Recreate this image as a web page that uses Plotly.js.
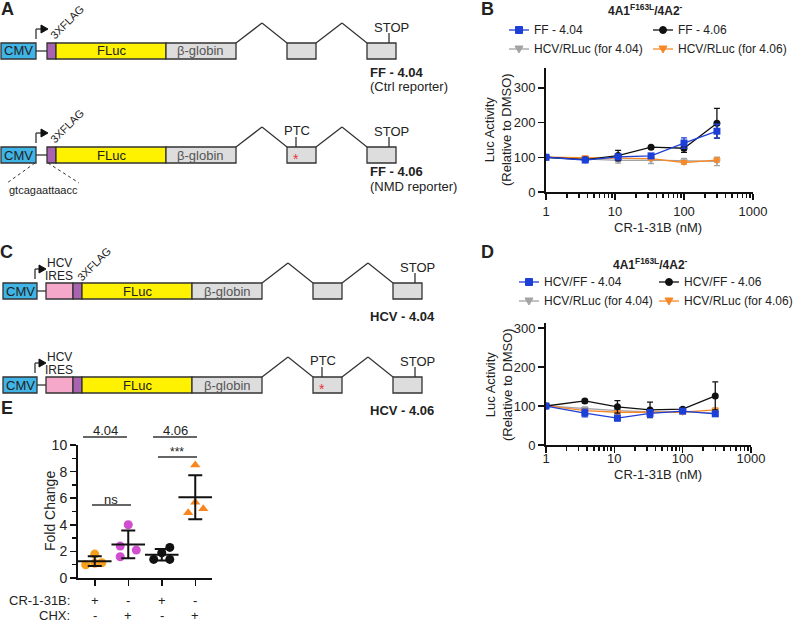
<!DOCTYPE html>
<html>
<head>
<meta charset="utf-8">
<script src="https://cdn.plot.ly/plotly-3.0.1.min.js"></script>
<style>
  body { margin: 0; background: #fff; }
  #chart { width: 797px; height: 623px; }
</style>
</head>
<body>
<div id="chart"></div>
<script>
// CR-1-31B doses (nM)
var conc = [1, 3.7, 11.1, 33.3, 100, 300];

// B: 4A1 F163L / 4A2-, FF reporters
var bFF404 = [100, 92, 101, 104, 141, 175];
var bFF404Sd = [2, 5, 8, 6, 15, 20];
var bFF406 = [100, 93, 105, 129, 126, 198];
var bFF406Sd = [2, 4, 15, 4, 12, 43];
var bRL404 = [100, 95, 91, 92, 89, 88];
var bRL404Sd = [2, 4, 8, 10, 8, 12];
var bRL406 = [100, 99, 97, 96, 85, 92];
var bRL406Sd = [2, 5, 5, 5, 5, 6];

// D: same cells, HCV IRES reporters
var dFF404 = [100, 82, 69, 81, 87, 80];
var dFF404Sd = [2, 10, 7, 10, 5, 6];
var dFF406 = [100, 113, 98, 90, 92, 126];
var dFF406Sd = [2, 4, 16, 20, 4, 36];
var dRL404 = [100, 93, 88, 85, 85, 82];
var dRL404Sd = [2, 5, 5, 5, 5, 5];
var dRL406 = [101, 88, 84, 84, 84, 90];
var dRL406Sd = [2, 4, 4, 4, 4, 5];

// E: fold change, 4 replicates per condition
var e404CR = [1.0, 1.8, 1.1, 1.15];
var e404CHX = [4.0, 2.4, 2.1, 1.6];
var e406CR = [1.9, 2.3, 1.4, 1.4];
var e406CHX = [8.5, 5.7, 4.9, 5.2];
var crSigns = ['+', '-', '+', '-'];
var chxSigns = ['-', '+', '-', '+'];

var W = 797, H = 623;
var FONT = 'Liberation Sans, Arial, Helvetica, sans-serif';
function px(x) { return x / W; }
function py(y) { return 1 - y / H; }

var shapes = [];
var notes = [];

function line(x0, y0, x1, y1, color, width, dash) {
  shapes.push({type: 'line', xref: 'paper', yref: 'paper',
    x0: px(x0), y0: py(y0), x1: px(x1), y1: py(y1),
    line: {color: color || '#333', width: width || 1.3, dash: dash || 'solid'}});
}
function rect(x0, x1, top, fill) {
  shapes.push({type: 'rect', xref: 'paper', yref: 'paper',
    x0: px(x0), x1: px(x1), y0: py(top + 16), y1: py(top),
    line: {color: '#333', width: 1.3}, fillcolor: fill});
}
function poly(pts, color) {
  var d = pts.map(function (p, i) { return (i ? 'L' : 'M') + px(p[0]) + ',' + py(p[1]); }).join(' ') + ' Z';
  shapes.push({type: 'path', xref: 'paper', yref: 'paper', path: d,
    fillcolor: color, line: {color: color, width: 1}});
}
function tri(tip, y) {
  poly([[tip, y], [tip - 7, y - 4], [tip - 7, y + 4]], '#111');
}
function text(x, y, t, size, opts) {
  opts = opts || {};
  notes.push({xref: 'paper', yref: 'paper', x: px(x), y: py(y), text: t, showarrow: false,
    xanchor: opts.xanchor || 'center', yanchor: 'middle', textangle: opts.angle || 0,
    font: {family: FONT, size: size || 13, color: opts.color || '#222'}});
}

// one reporter construct; hcv rows have the IRES and sit 26px further right
function construct(top, hcv, ptc, flag) {
  var s = hcv ? 26 : 0;
  var c0 = hcv ? 3 : 1, c1 = hcv ? 37 : 36;
  var mid = top + 8;
  line(c1, mid, hcv ? 46 : 47, mid);
  rect(c0, c1, top, '#3fb4e5');
  text((c0 + c1) / 2, mid, 'CMV', 13);
  if (hcv) rect(46, 73, top, '#f5a8c9');
  rect(47 + s, 56 + s, top, '#a864b0');
  rect(56 + s, 166 + s, top, '#fff200');
  text(111 + s, mid, 'FLuc', 13);
  rect(166 + s, 236 + s, top, '#dddddd');
  text(201 + s, mid, 'β-globin', 13, {color: '#555'});
  line(236 + s, top, 262 + s, top - 20);
  line(262 + s, top - 20, 287 + s, top);
  rect(287 + s, 316 + s, top, '#dddddd');
  line(316 + s, top, 342 + s, top - 20);
  line(342 + s, top - 20, 367 + s, top);
  rect(367 + s, 396 + s, top, '#dddddd');
  line(389 + s, top - 10, 389 + s, top);
  text(391 + s, top - 16, 'STOP', 13);
  if (ptc) {
    line(296 + s, top - 10, 296 + s, top);
    text(297 + s, top - 17, 'PTC', 13);
    text(296 + s, mid + 4, '*', 14, {color: '#e8333a'});
  }
  var ax = hcv ? 35 : 36, tip = hcv ? 46 : 48;
  line(ax, top - 4, ax, top - 14);
  line(ax, top - 14, tip - 6, top - 14);
  tri(tip, top - 14);
  if (flag) text(hcv ? 94 : 67, top - (hcv ? 19 : 21), '3XFLAG', 11, {angle: -45});
  if (hcv) {
    text(59, top - 20, 'HCV', 12);
    text(59, top - 7, 'IRES', 12);
  }
}

construct(43, false, false, true);
construct(147, false, true, true);
construct(283, true, false, true);
construct(377, true, true, false);

text(368, 72, '<b>FF - 4.04</b>', 13, {xanchor: 'left'});
text(368, 87, '(Ctrl reporter)', 13, {xanchor: 'left'});
text(368, 172, '<b>FF - 4.06</b>', 13, {xanchor: 'left'});
text(368, 186, '(NMD reporter)', 13, {xanchor: 'left'});
text(368, 316, '<b>HCV - 4.04</b>', 13, {xanchor: 'left'});
text(368, 410, '<b>HCV - 4.06</b>', 13, {xanchor: 'left'});
line(35, 163, 7, 183, '#333', 1, 'dot');
line(48, 163, 79, 183, '#333', 1, 'dot');
text(43, 190, 'gtcagaattaacc', 11);

// panel letters and titles
text(7, 9, '<b>A</b>', 18);
text(487, 9, '<b>B</b>', 18);
text(6, 252, '<b>C</b>', 18);
text(487, 252, '<b>D</b>', 18);
text(7, 408, '<b>E</b>', 18);
text(645, 10, '<b>4A1<sup>F163L</sup>/4A2<sup>-</sup></b>', 12);
text(650, 264, '<b>4A1<sup>F163L</sup>/4A2<sup>-</sup></b>', 12);
text(498, 130, 'Luc Activity<br>(Relative to DMSO)', 13, {angle: -90});
text(499, 385, 'Luc Activity<br>(Relative to DMSO)', 13, {angle: -90});
text(658, 227, 'CR-1-31B (nM)', 13);
text(658, 474, 'CR-1-31B (nM)', 13);

// E brackets
text(105, 430, '4.04', 13);
line(83, 437, 127, 437);
text(175, 430, '4.06', 13);
line(153, 437, 197, 437);
text(177, 452, '***', 12);
line(158, 457, 197, 457);
text(111, 499, 'ns', 13);
line(92, 505, 131, 505);
text(50, 511, 'Fold Change', 14, {angle: -90});
text(72, 600, 'CR-1-31B:', 13, {xanchor: 'right'});
text(72, 615, 'CHX:', 13, {xanchor: 'right'});
crSigns.forEach(function (s, i) {
  notes.push({xref: 'x3', yref: 'paper', x: i, y: py(600), yanchor: 'middle', text: s, showarrow: false,
    font: {family: FONT, size: 13, color: '#222'}});
  notes.push({xref: 'x3', yref: 'paper', x: i, y: py(615), yanchor: 'middle', text: chxSigns[i], showarrow: false,
    font: {family: FONT, size: 13, color: '#222'}});
});

var BLUE = '#1c3fd8', GREY = '#a3a3a3', ORANGE = '#f7882a';

function series(name, y, sd, color, symbol, xa, ya) {
  return {type: 'scatter', mode: 'lines+markers', name: name, x: conc, y: y,
    xaxis: xa, yaxis: ya, showlegend: false,
    line: {color: color, width: 1.3},
    marker: {color: color, symbol: symbol, size: 7},
    error_y: {type: 'data', array: sd, color: color, thickness: 1.3, width: 3}};
}

var bTraces = [
  series('HCV/RLuc (for 4.04)', bRL404, bRL404Sd, GREY, 'triangle-down', 'x', 'y'),
  series('HCV/RLuc (for 4.06)', bRL406, bRL406Sd, ORANGE, 'triangle-down', 'x', 'y'),
  series('FF - 4.06', bFF406, bFF406Sd, '#111', 'circle', 'x', 'y'),
  series('FF - 4.04', bFF404, bFF404Sd, BLUE, 'square', 'x', 'y')
];
var dTraces = [
  series('HCV/RLuc (for 4.04)', dRL404, dRL404Sd, GREY, 'triangle-down', 'x2', 'y2'),
  series('HCV/RLuc (for 4.06)', dRL406, dRL406Sd, ORANGE, 'triangle-down', 'x2', 'y2'),
  series('HCV/FF - 4.06', dFF406, dFF406Sd, '#111', 'circle', 'x2', 'y2'),
  series('HCV/FF - 4.04', dFF404, dFF404Sd, BLUE, 'square', 'x2', 'y2')
];

// two-column key drawn from the traces themselves
function keyMark(x, y, t) {
  var c = t.marker.color, sym = t.marker.symbol;
  line(x - 10, y, x + 10, y, c, 1.3);
  if (sym === 'square') {
    shapes.push({type: 'rect', xref: 'paper', yref: 'paper', x0: px(x - 3.5), x1: px(x + 3.5),
      y0: py(y + 3.5), y1: py(y - 3.5), fillcolor: c, line: {color: c, width: 1}});
  } else if (sym === 'circle') {
    shapes.push({type: 'circle', xref: 'paper', yref: 'paper', x0: px(x - 3.5), x1: px(x + 3.5),
      y0: py(y + 3.5), y1: py(y - 3.5), fillcolor: c, line: {color: c, width: 1}});
  } else {
    poly([[x - 4, y - 3], [x + 4, y - 3], [x, y + 4]], c);
  }
}
function key(tr, cols, rows) {
  // order: [col1 row1, col2 row1, col1 row2, col2 row2] = FF 4.04, FF 4.06, RLuc 4.04, RLuc 4.06
  [tr[3], tr[2], tr[0], tr[1]].forEach(function (t, i) {
    var x = cols[i % 2], y = rows[Math.floor(i / 2)];
    keyMark(x + 10, y, t);
    text(x + 23, y, t.name, 12, {xanchor: 'left'});
  });
}
key(bTraces, [509, 653], [30, 49]);
key(dTraces, [519, 659], [282, 301]);

var traces = bTraces.concat(dTraces);

// E: replicate dots, then mean +/- SD
var groups = [e404CR, e404CHX, e406CR, e406CHX];
var groupColors = ['#f8a01c', '#d04fd0', '#111111', '#f7861e'];
var groupSymbols = ['circle', 'circle', 'circle', 'triangle-up'];
var jitter = [[-0.27, 0, 0, 0.21], [0, -0.24, 0.24, -0.24], [0, 0.24, -0.24, 0.24], [0, 0, -0.21, 0.24]];
var means = [], sds = [];
groups.forEach(function (g, i) {
  var m = g.reduce(function (a, b) { return a + b; }, 0) / g.length;
  var v = g.reduce(function (a, b) { return a + (b - m) * (b - m); }, 0) / (g.length - 1);
  means.push(m);
  sds.push(Math.sqrt(v));
  traces.push({type: 'scatter', mode: 'markers', x: g.map(function (d, j) { return i + jitter[i][j]; }),
    y: g, xaxis: 'x3', yaxis: 'y3', showlegend: false,
    marker: {color: groupColors[i], symbol: groupSymbols[i], size: 9}});
});
traces.push({type: 'scatter', mode: 'markers', x: [0, 1, 2, 3], y: means, xaxis: 'x3', yaxis: 'y3',
  showlegend: false,
  marker: {symbol: 'line-ew', size: 24, color: '#111', line: {width: 2, color: '#111'}},
  error_y: {type: 'data', array: sds, color: '#111', thickness: 2, width: 7}});

var logMinor = [2, 3, 4, 5, 6, 7, 8, 9, 20, 30, 40, 50, 60, 70, 80, 90, 200, 300, 400, 500, 600, 700, 800, 900];

function logAxis(x0, x1, anchor, standoff) {
  return {domain: [px(x0), px(x1)], anchor: anchor, type: 'log', range: [0, 3],
    tickvals: [1, 10, 100, 1000], ticktext: ['1', '10', '100', '1000'],
    ticks: 'outside', ticklen: 6, tickwidth: 1.5, tickcolor: '#111',
    showline: true, linewidth: 2, linecolor: '#111', showgrid: false, zeroline: false,
    ticklabelstandoff: standoff, tickfont: {size: 13, color: '#222'},
    minor: {tickvals: logMinor, ticks: 'outside', ticklen: 4, tickwidth: 1.5, tickcolor: '#111', showgrid: false}};
}
function valAxis(y0, y1, anchor, top) {
  return {domain: [py(y0), py(y1)], anchor: anchor, range: [0, top],
    tickvals: [0, 100, 200, 300], ticks: 'outside', ticklen: 6, tickwidth: 1.5, tickcolor: '#111',
    showline: true, linewidth: 2, linecolor: '#111', showgrid: false, zeroline: false,
    tickfont: {size: 13, color: '#222'}};
}

var layout = {
  width: W, height: H,
  margin: {l: 0, r: 0, t: 0, b: 0},
  paper_bgcolor: '#fff', plot_bgcolor: 'rgba(0,0,0,0)',
  font: {family: FONT, color: '#222'},
  hovermode: false,
  showlegend: false,
  xaxis: logAxis(546, 753, 'y', 0),
  yaxis: valAxis(192, 68, 'x', 357),
  xaxis2: logAxis(546, 751, 'y2', -6),
  yaxis2: valAxis(445, 323, 'x2', 313),
  xaxis3: {domain: [px(78), px(212)], anchor: 'y3', range: [-0.5, 3.5],
    tickvals: [0, 1, 2, 3], showticklabels: false, ticks: 'outside', ticklen: 6, tickwidth: 1.5,
    tickcolor: '#111', showline: true, linewidth: 2, linecolor: '#111', showgrid: false, zeroline: false},
  yaxis3: {domain: [py(578), py(445)], anchor: 'x3', range: [0, 10],
    tickvals: [0, 2, 4, 6, 8, 10], ticks: 'outside', ticklen: 6, tickwidth: 1.5, tickcolor: '#111',
    showline: true, linewidth: 2, linecolor: '#111', showgrid: false, zeroline: false,
    tickfont: {size: 14, color: '#222'},
    minor: {tickvals: [1, 3, 5, 7, 9], ticks: 'outside', ticklen: 4, tickwidth: 1.5, tickcolor: '#111', showgrid: false}},
  shapes: shapes,
  annotations: notes
};

Plotly.newPlot('chart', traces, layout, {displayModeBar: false, staticPlot: true});
</script>
</body>
</html>
